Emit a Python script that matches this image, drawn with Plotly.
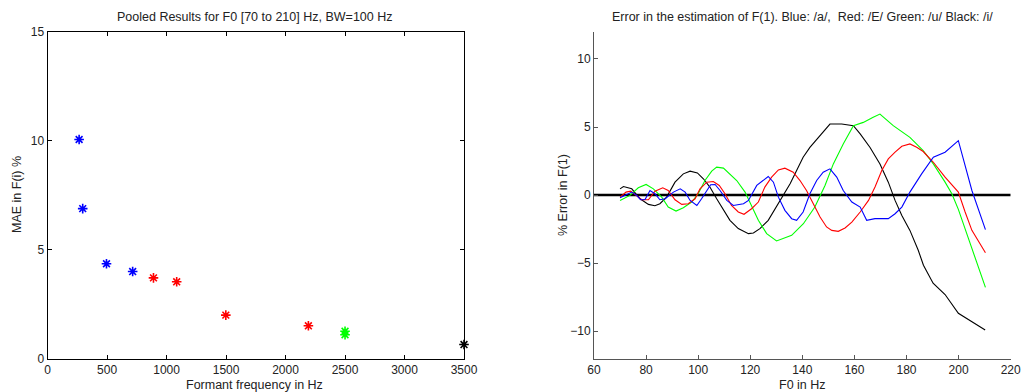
import plotly.graph_objects as go

# ---------------- Left panel data ----------------
blue_f = [265, 295, 495, 715]
blue_mae = [10.05, 6.88, 4.35, 3.99]
red_f = [890, 1085, 1498, 2192]
red_mae = [3.70, 3.52, 1.99, 1.50]
green_f = [2500, 2500]
green_mae = [1.25, 1.09]
black_f = [3500]
black_mae = [0.64]

# ---------------- Right panel data ----------------
black_x = [70, 71.3, 74.5, 77.7, 80.9, 83.4, 85.3, 87.9, 91.1, 94.3, 96.9, 99.7, 102, 104.5, 107.1,
           109.7, 112.2, 115.4, 119.3, 121.2, 123.7, 126.9, 129.5, 132, 135.3, 137.8, 140.3, 142.9,
           146.1, 150.6, 155.1, 159.6, 162.2, 166, 169.8, 173, 175.6, 178.2, 181.3, 184.5, 186.5,
           190.2, 194.8, 199.9, 210.2]
black_y = [0.46, 0.63, 0.46, -0.27, -0.68, -0.78, -0.63, -0.15, 0.95, 1.56, 1.76, 1.63, 1.2, 0.59,
           -0.27, -1.12, -1.85, -2.46, -2.83, -2.78, -2.46, -1.85, -1.0, -0.15, 0.83, 1.8, 2.78, 3.5,
           4.24, 5.22, 5.22, 5.1, 4.49, 3.5, 2.29, 0.95, -0.39, -1.49, -2.59, -4.05, -5.15,
           -6.47, -7.3, -8.68, -9.9]

green_x = [70, 73.8, 77, 80, 82.8, 86, 88.5, 91.5, 94.3, 97.5, 100, 102.6, 105.2, 107.1, 109.7,
           112.2, 114.8, 118, 120.5, 123.1, 126.3, 130.1, 135.9, 140.4, 144.8, 148.7, 151.9, 155.7,
           159.6, 163.4, 167.2, 169.8, 174.9, 181.3, 186.4, 190.3, 194.8, 197.4, 199.9, 203.1,
           205.6, 210.3]
green_y = [-0.39, -0.02, 0.54, 0.78, 0.46, -0.15, -0.88, -1.17, -0.93, -0.51, 0.1, 1.07, 1.76, 2.05,
           1.98, 1.56, 1.07, 0.22, -0.76, -1.85, -2.83, -3.37, -2.95, -2.1, -0.88, 0.71, 2.29, 3.76,
           5.1, 5.34, 5.71, 5.95, 5.1, 4.24, 3.27, 2.29, 0.95, 0.1, -1.05, -2.83, -4.29, -6.78]

red_x = [70, 72.3, 74.1, 76.4, 78.3, 80.9, 83.4, 86.4, 88.5, 91.1, 93.7, 96.2, 98.8, 100.7, 103.3,
         105.8, 108.1, 110.3, 112.8, 115.4, 117.6, 120.5, 123.1, 125.6, 128.2, 130.8, 133.3, 136.5,
         139.1, 141.6, 144.2, 146.8, 149.3, 151.3, 153.8, 156.4, 159, 162.2, 165.4, 167.9, 170.5,
         173, 175.6, 178.2, 181.3, 183.9, 186.4, 190.3, 194.8, 199.9, 202.5, 205.1, 210.3]
red_y = [-0.15, 0.22, 0.29, -0.02, -0.34, -0.34, 0.29, 0.54, 0.34, -0.34, -0.68, -0.63, -0.27, 0.46,
         0.95, 1.0, 0.71, 0.1, -0.76, -1.24, -1.41, -1.0, -0.51, 0.59, 1.32, 1.85, 1.98, 1.68, 1.07,
         0.34, -0.63, -1.61, -2.34, -2.59, -2.66, -2.41, -1.98, -1.24, -0.39, 0.59, 1.8, 2.66, 3.15,
         3.59, 3.76, 3.51, 3.2, 2.41, 1.32, 0.22, -1.24, -2.59, -4.24]

blue_x = [70, 72.3, 74.5, 76.4, 77.9, 79.6, 81.5, 83.4, 85.3, 87.3, 90.5, 93.1, 95, 96.9, 99.5,
          101.3, 103.3, 104.8, 106.5, 108.4, 111, 113.5, 117.4, 119.3, 122.5, 124.8, 126.9, 128.9,
          130.8, 133.3, 135.9, 137.8, 140.3, 142.9, 145.5, 148, 150.6, 153.2, 155.7, 159, 162.2,
          164.7, 167.9, 173, 175.6, 178.2, 181.3, 185.8, 190.3, 194.8, 199.9, 205.1, 210.3]
blue_y = [-0.2, 0.02, 0.22, -0.02, -0.34, -0.32, 0.34, 0.1, -0.34, -0.27, 0.22, 0.46, 0.22, -0.39,
          -0.76, -0.27, 0.34, 0.76, 0.78, 0.34, -0.39, -0.76, -0.63, -0.39, 0.71, 1.07, 1.37, 0.95,
          -0.15, -1.12, -1.73, -1.85, -1.24, 0.1, 1.07, 1.68, 1.93, 1.32, 0.34, -0.51, -0.88, -1.85,
          -1.73, -1.73, -1.37, -0.88, 0.22, 1.56, 2.78, 3.15, 4.0, 0.34, -2.54]

F0_RANGE = [60, 220]
ZERO = [0, 0]

FONT = "Liberation Sans, Arial, sans-serif"

fig = go.Figure()

def pts(x, y, color):
    fig.add_trace(go.Scatter(
        x=x, y=y, mode="markers", xaxis="x", yaxis="y", cliponaxis=False,
        marker=dict(symbol="asterisk-open", size=8, color=color,
                    line=dict(color=color, width=1.6)),
        showlegend=False))

pts(blue_f, blue_mae, "#0000ff")
pts(red_f, red_mae, "#ff0000")
pts(green_f, green_mae, "#00ff00")
pts(black_f, black_mae, "#000000")

fig.add_trace(go.Scatter(x=F0_RANGE, y=ZERO, mode="lines", xaxis="x2", yaxis="y2",
                         line=dict(color="#000000", width=2.5), showlegend=False))
for xs, ys, c in [(black_x, black_y, "#000000"), (green_x, green_y, "#00ff00"),
                  (red_x, red_y, "#ff0000"), (blue_x, blue_y, "#0000ff")]:
    fig.add_trace(go.Scatter(x=xs, y=ys, mode="lines", xaxis="x2", yaxis="y2",
                             line=dict(color=c, width=1.1), showlegend=False))

W, H = 1022, 392
ydom = [1 - 358.5 / H, 1 - 31.7 / H]
tickfont = dict(family=FONT, size=12, color="#222222")

common = dict(showgrid=False, zeroline=False, ticks="inside", ticklen=4, tickfont=tickfont,
              showline=True, linewidth=1, automargin=False)

fig.update_layout(
    width=W, height=H,
    margin=dict(l=0, r=0, t=0, b=0, autoexpand=False),
    paper_bgcolor="white", plot_bgcolor="white",
    font=dict(family=FONT, size=12, color="#222222"),
    xaxis=dict(domain=[47.6 / W, 464 / W], range=[0, 3500],
               tickvals=[0, 500, 1000, 1500, 2000, 2500, 3000, 3500],
               linecolor="#000000", tickcolor="#000000", mirror="ticks", anchor="y", **common),
    yaxis=dict(domain=ydom, range=[0, 15], tickvals=[0, 5, 10, 15],
               linecolor="#000000", tickcolor="#000000", mirror="ticks", anchor="x", **common),
    xaxis2=dict(domain=[594 / W, 1010.7 / W], range=F0_RANGE, tickvals=list(range(60, 221, 20)),
                linecolor="#555555", tickcolor="#555555", mirror=False, anchor="y2", **common),
    yaxis2=dict(domain=ydom, range=[-12, 12], tickvals=[-10, -5, 0, 5, 10],
                linecolor="#555555", tickcolor="#555555", mirror=False, anchor="x2", **common),
)

def ann(text, px, py, angle=0, size=12.5):
    return dict(text=text, x=px / W, y=1 - py / H, xref="paper", yref="paper",
                xanchor="center", yanchor="middle", showarrow=False, textangle=angle,
                font=dict(family=FONT, size=size, color="#222222"))

fig.update_layout(annotations=[
    ann("Pooled Results for F0 [70 to 210] Hz, BW=100 Hz", 254, 17),
    ann("Formant frequency in Hz", 254, 385),
    ann("MAE in F(i) %", 17, 195, -90),
    ann("Error in the estimation of F(1). Blue: /a/,  Red: /E/ Green: /u/ Black: /i/", 802, 17),
    ann("F0 in Hz", 802, 385),
    ann("% Error in F(1)", 563, 195, -90),
])

fig.write_html("out.html")
